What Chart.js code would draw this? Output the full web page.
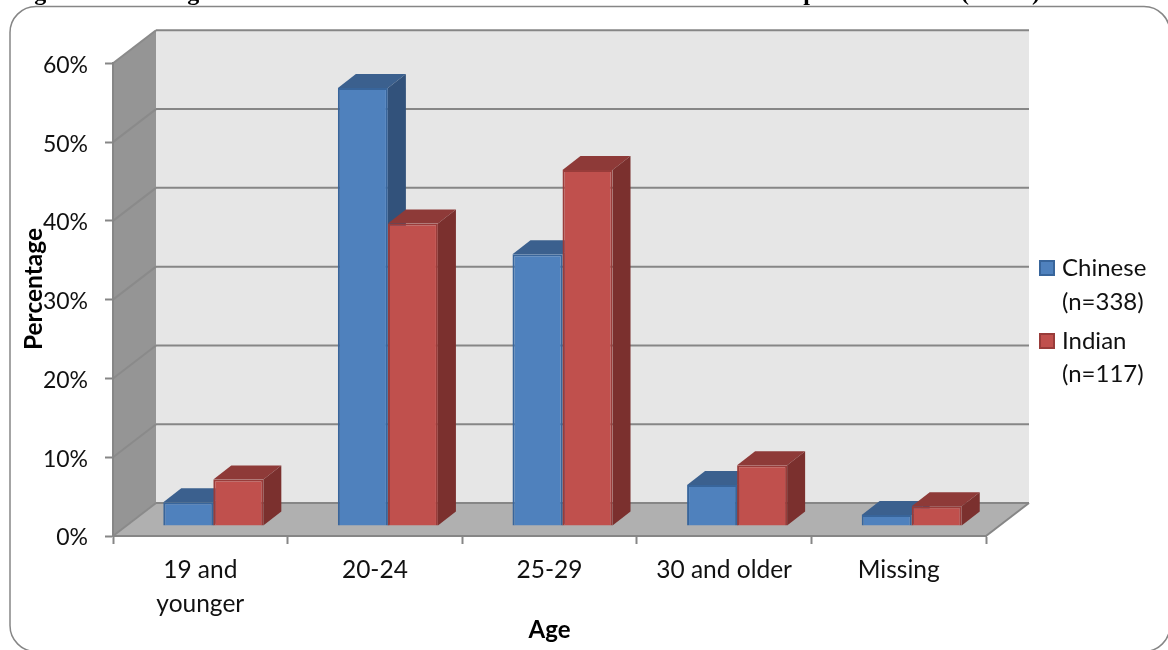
<!DOCTYPE html>
<html>
<head>
<meta charset="utf-8">
<title>Age</title>
<script src="https://cdn.jsdelivr.net/npm/chart.js@4/dist/chart.umd.min.js"></script>
<style>
    html, body { margin: 0; padding: 0; background: #fff; }
    canvas { display: block; }
</style>
</head>
<body>
<canvas id="chart" width="1168" height="650"></canvas>
<script>
var categories = [['19 and', 'younger'], '20-24', '25-29', '30 and older', 'Missing'];
var chineseValues = [3.0, 55.6, 34.5, 5.2, 1.4];
var indianValues = [5.9, 38.4, 45.2, 7.7, 2.5];
var chineseLabel = ['Chinese', '(n=338)'];
var indianLabel = ['Indian', '(n=117)'];
var yTicks = [0, 10, 20, 30, 40, 50, 60];

var FONT = 'Lato, "Noto Sans", sans-serif';
var AXIS_GREY = '#868686';

// depth of the room behind the axes, and of each box
var roomDepth = {x: 43, y: -33};
var barShift = {x: 13, y: -10};
var barDepth = {x: 18, y: -14};

var blue = {front: '#4f81bd', edge: '#38659b', top: '#3b608e', side: '#32527b'};
var red = {front: '#c0504d', edge: '#993c3a', top: '#8e3a38', side: '#7b302e'};

function polygon(ctx, points, color) {
    ctx.fillStyle = color;
    ctx.beginPath();
    points.forEach(function(p, i) {
        if (i === 0) {
            ctx.moveTo(p[0], p[1]);
        } else {
            ctx.lineTo(p[0], p[1]);
        }
    });
    ctx.closePath();
    ctx.fill();
}

// frame, walls, floor and wall lines, under everything else
var roomPlugin = {
    id: 'room',
    beforeDraw: function(chart) {
        var ctx = chart.ctx;
        var area = chart.chartArea;
        var y = chart.scales.y;
        var dx = roomDepth.x;
        var dy = roomDepth.y;

        ctx.save();
        ctx.strokeStyle = AXIS_GREY;
        ctx.lineWidth = 1.5;
        ctx.beginPath();
        ctx.roundRect(10, 6.5, 1160, 645, 26);
        ctx.stroke();

        // what is left of the heading above the frame
        ctx.fillStyle = '#000';
        ctx.font = 'bold 24px "Liberation Serif", serif';
        ctx.textBaseline = 'alphabetic';
        ctx.fillText('Figure', 13, 0);
        ctx.fillText('Age', 170, 0);
        ctx.fillText('Respondents', 766, 0);
        ctx.fillText('(n=455)', 961, 0);

        polygon(ctx, [[area.left + dx, area.top + dy], [area.right + dx, area.top + dy],
            [area.right + dx, area.bottom + dy], [area.left + dx, area.bottom + dy]], '#e6e6e6');
        polygon(ctx, [[area.left, area.top], [area.left + dx, area.top + dy],
            [area.left + dx, area.bottom + dy], [area.left, area.bottom]], '#959595');
        polygon(ctx, [[area.left, area.bottom], [area.left + dx, area.bottom + dy],
            [area.right + dx, area.bottom + dy], [area.right, area.bottom]], '#b0b0b0');

        ctx.lineWidth = 2;
        yTicks.forEach(function(tick) {
            var py = y.getPixelForValue(tick);
            ctx.strokeStyle = AXIS_GREY;
            ctx.beginPath();
            ctx.moveTo(area.left + dx, py + dy);
            ctx.lineTo(area.right + dx, py + dy);
            ctx.stroke();
            ctx.strokeStyle = '#8a8a8a';
            ctx.beginPath();
            ctx.moveTo(area.left, py);
            ctx.lineTo(area.left + dx, py + dy);
            ctx.stroke();
        });
        ctx.strokeStyle = AXIS_GREY;
        ctx.beginPath();
        ctx.moveTo(area.right, area.bottom);
        ctx.lineTo(area.right + dx, area.bottom + dy);
        ctx.stroke();
        ctx.restore();
    }
};

// boxes stand in the middle of the floor. Chinese goes first so the Indian
// front faces cover its sides, which is the reverse of the default draw order
var boxPlugin = {
    id: 'box',
    beforeDatasetsDraw: function(chart) {
        var ctx = chart.ctx;
        var dx = barDepth.x;
        var dy = barDepth.y;
        [blue, red].forEach(function(colors, index) {
            var meta = chart.getDatasetMeta(index);
            ctx.save();
            ctx.translate(barShift.x, barShift.y);
            meta.data.forEach(function(bar) {
                var p = bar.getProps(['x', 'y', 'base', 'width'], true);
                var left = p.x - p.width / 2;
                var right = p.x + p.width / 2;
                polygon(ctx, [[left, p.y], [left + dx, p.y + dy], [right + dx, p.y + dy], [right, p.y]], colors.top);
                polygon(ctx, [[right, p.y], [right + dx, p.y + dy], [right + dx, p.base + dy], [right, p.base]], colors.side);
            });
            meta.controller.draw();
            ctx.restore();
        });
        return false;
    }
};

var keyPlugin = {
    id: 'key',
    afterDraw: function(chart) {
        var ctx = chart.ctx;
        ctx.save();
        ctx.font = '24px ' + FONT;
        ctx.textBaseline = 'middle';
        [[chineseLabel, blue, 268, 302], [indianLabel, red, 341, 374]].forEach(function(row) {
            ctx.fillStyle = row[1].front;
            ctx.strokeStyle = row[1].edge;
            ctx.lineWidth = 2;
            ctx.fillRect(1040, row[2] - 7, 14, 14);
            ctx.strokeRect(1040, row[2] - 7, 14, 14);
            ctx.fillStyle = '#111';
            ctx.fillText(row[0][0], 1062, row[2]);
            ctx.fillText(row[0][1], 1062, row[3]);
        });

        // the vertical title sits above the middle of the axis
        ctx.translate(34, 289);
        ctx.rotate(-Math.PI / 2);
        ctx.font = 'bold 24.5px ' + FONT;
        ctx.textAlign = 'center';
        ctx.fillStyle = '#000';
        ctx.fillText('Percentage', 0, 0);
        ctx.restore();
    }
};

new Chart(document.getElementById('chart').getContext('2d'), {
    type: 'bar',
    data: {
        labels: categories,
        datasets: [
            {
                label: chineseLabel.join(' '),
                data: chineseValues,
                backgroundColor: blue.front,
                borderColor: blue.edge,
                borderWidth: 2,
                inflateAmount: 0,
                categoryPercentage: 0.573,
                barPercentage: 1
            },
            {
                label: indianLabel.join(' '),
                data: indianValues,
                backgroundColor: red.front,
                borderColor: red.edge,
                borderWidth: 2,
                inflateAmount: 0,
                categoryPercentage: 0.573,
                barPercentage: 1
            }
        ]
    },
    options: {
        responsive: false,
        animation: false,
        layout: {
            autoPadding: false,
            padding: {left: 0, top: 63.3, right: 182, bottom: 0}
        },
        plugins: {
            legend: {display: false},
            tooltip: {enabled: false}
        },
        scales: {
            x: {
                afterFit: function(scale) {
                    scale.height = 114;
                },
                grid: {
                    drawOnChartArea: false,
                    tickLength: 8,
                    tickWidth: 2,
                    tickColor: AXIS_GREY
                },
                border: {color: AXIS_GREY, width: 2},
                ticks: {
                    maxRotation: 0,
                    autoSkip: false,
                    padding: 9,
                    color: '#111',
                    font: {family: FONT, size: 24.5, lineHeight: 1.38}
                },
                title: {
                    display: true,
                    text: 'Age',
                    color: '#000',
                    padding: {top: 0, bottom: 5},
                    font: {family: FONT, size: 24, weight: 'bold'}
                }
            },
            y: {
                min: 0,
                max: 60,
                afterFit: function(scale) {
                    scale.width = 113;
                },
                afterBuildTicks: function(scale) {
                    scale.ticks = yTicks.map(function(v) {
                        return {value: v};
                    });
                },
                grid: {
                    drawOnChartArea: false,
                    tickLength: 8,
                    tickWidth: 2,
                    tickColor: AXIS_GREY
                },
                border: {color: AXIS_GREY, width: 2},
                ticks: {
                    padding: 17,
                    labelOffset: 2,
                    color: '#111',
                    font: {family: FONT, size: 23},
                    callback: function(value) {
                        return value + '%';
                    }
                }
            }
        }
    },
    plugins: [roomPlugin, boxPlugin, keyPlugin]
});
</script>
</body>
</html>
